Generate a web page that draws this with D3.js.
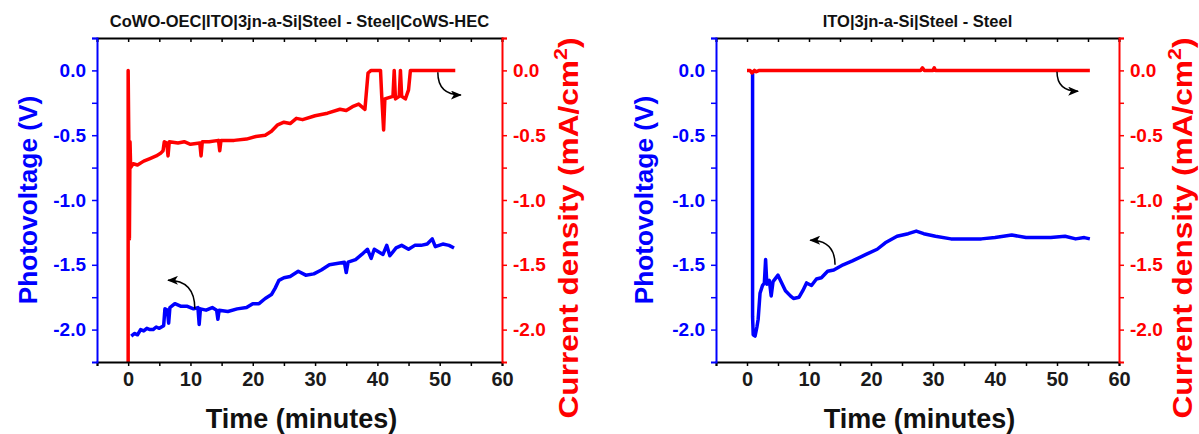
<!DOCTYPE html>
<html>
<head>
<meta charset="utf-8">
<script src="https://cdn.jsdelivr.net/npm/d3@7"></script>
<style>
  html, body { margin: 0; padding: 0; background: #fff; }
  svg { display: block; font-family: "Liberation Sans", Arial, sans-serif; font-weight: bold; }
</style>
</head>
<body>
<svg id="chart" width="1199" height="434"></svg>
<script>
// ---------------- DATA ----------------
const panelTitles = ["CoWO-OEC|ITO|3jn-a-Si|Steel - Steel|CoWS-HEC", "ITO|3jn-a-Si|Steel - Steel"];
const xTickValues = [0, 10, 20, 30, 40, 50, 60];
const xMinorValues = [-5, 5, 15, 25, 35, 45, 55];
const yTickValues = [0.0, -0.5, -1.0, -1.5, -2.0];
const yMinorValues = [0.25, -0.25, -0.75, -1.25, -1.75];
const xTitle = "Time (minutes)";
const yLeftTitle = "Photovoltage (V)";
const yRightTitle = ["Current density (mA/cm", "2", ")"];

// Panel 1: CoWO-OEC|ITO|3jn-a-Si|Steel - Steel|CoWS-HEC  [time (min), value]
const p1Voltage = [
  [0.5,-2.05],[1,-2.03],[1.5,-2.04],[2,-2.0],[2.5,-2.01],[3,-1.99],[3.5,-2.0],[4,-2.0],[4.5,-1.98],[5,-1.99],
  [5.7,-1.97],[5.9,-1.84],[6.3,-1.85],[6.5,-1.95],[6.7,-1.83],[7.5,-1.80],[8.5,-1.82],[9.5,-1.82],[10.5,-1.84],
  [11.2,-1.83],[11.4,-1.96],[11.6,-1.84],[12.5,-1.85],[13.5,-1.83],[14.2,-1.85],[14.4,-1.92],[14.6,-1.85],
  [16,-1.86],[17.5,-1.84],[19,-1.83],[20,-1.80],[21,-1.80],[22,-1.76],[23,-1.73],[23.6,-1.68],[24.2,-1.62],
  [25,-1.60],[26,-1.59],[27.3,-1.55],[28.5,-1.58],[29.8,-1.57],[31,-1.54],[32.3,-1.50],[33.5,-1.49],[34.7,-1.48],
  [35,-1.56],[35.3,-1.48],[36.5,-1.46],[37.5,-1.42],[38.4,-1.38],[39,-1.45],[39.5,-1.38],[40.9,-1.42],[41.5,-1.35],
  [42,-1.43],[43,-1.37],[43.9,-1.35],[45,-1.38],[46,-1.35],[47,-1.35],[48,-1.34],[48.8,-1.30],[49.3,-1.36],
  [50.5,-1.34],[51.5,-1.35],[52.3,-1.37]
];
const p1Current = [
  [0,-2.25],[0,0.0],[0.1,-0.5],[0.2,-1.3],[0.3,-0.55],[0.4,-0.75],[0.8,-0.72],[1.5,-0.73],[2.5,-0.70],[3.5,-0.68],
  [4.5,-0.66],[5.2,-0.64],[5.6,-0.62],[5.8,-0.55],[6.2,-0.56],[6.4,-0.66],[6.6,-0.55],[8,-0.56],[9,-0.55],[10,-0.57],
  [11.5,-0.56],[11.7,-0.66],[11.9,-0.55],[13,-0.55],[14.5,-0.54],[14.7,-0.62],[14.9,-0.54],[17,-0.54],[19,-0.53],
  [20.5,-0.51],[22,-0.50],[23,-0.47],[24,-0.42],[25,-0.40],[26,-0.41],[27,-0.37],[28,-0.38],[30,-0.35],[32,-0.33],
  [34,-0.30],[35,-0.31],[36,-0.28],[37,-0.26],[38,-0.30],[38.5,-0.02],[39,0.0],[40.5,0.0],[40.7,-0.2],[41,-0.46],
  [41.2,-0.22],[42.5,-0.2],[42.7,0.0],[42.9,-0.22],[43.5,-0.2],[43.7,0.0],[43.9,-0.2],[44.5,-0.22],[45,-0.15],
  [45.3,0.0],[52.5,0.0]
];
// Panel 2: ITO|3jn-a-Si|Steel - Steel
const p2Voltage = [
  [0.9,0.0],[0.9,-1.9],[1.0,-2.04],[1.3,-2.05],[1.6,-1.98],[1.8,-1.92],[2.1,-1.72],[2.5,-1.66],[2.8,-1.64],[3.0,-1.46],
  [3.2,-1.65],[3.6,-1.62],[3.9,-1.74],[4.2,-1.63],[5,-1.58],[5.5,-1.63],[6.2,-1.70],[7,-1.74],[7.5,-1.76],[8.4,-1.75],
  [9,-1.70],[9.6,-1.64],[10.4,-1.66],[11.2,-1.61],[12,-1.60],[13,-1.55],[14,-1.54],[15.5,-1.50],[17,-1.47],
  [19.2,-1.42],[21,-1.38],[22.3,-1.33],[24.2,-1.28],[26,-1.26],[27.3,-1.24],[28.5,-1.26],[30.4,-1.28],[32.9,-1.30],
  [35,-1.30],[37.8,-1.30],[40,-1.29],[42.7,-1.27],[45,-1.29],[47,-1.29],[49,-1.29],[51.3,-1.28],[53,-1.30],
  [54.4,-1.29],[55.3,-1.30]
];
const p2Current = [
  [0,0.0],[0.5,0.0],[0.8,-0.02],[1.2,0.0],[1.5,-0.01],[2,0.0],[28,0.0],[28.3,0.02],[28.6,0.0],
  [30,0.0],[30.2,0.02],[30.4,0.0],[55.3,0.0]
];
// Annotation arrows [start, end] in data coordinates
const p1Arrows = [[[10.7,-1.84],[6.4,-1.62]], [[49.7,-0.015],[53.4,-0.19]]];
const p2Arrows = [[[14.2,-1.50],[10.2,-1.31]], [[50.0,-0.01],[53.4,-0.16]]];

// ---------------- DRAW ----------------
const svg = d3.select("#chart");
const BLUE = "#0000ff", RED = "#ff0000";
const plotTop = 38, plotBottom = 362;
const FONT = "Liberation Sans, Arial, sans-serif";
const fmtY = d => d3.format(".1f")(d).replace("\u2212", "-");

const defs = svg.append("defs");
defs.append("marker").attr("id", "ah").attr("viewBox", "0 0 12 10")
  .attr("refX", 11).attr("refY", 5).attr("markerWidth", 12).attr("markerHeight", 9)
  .attr("markerUnits", "userSpaceOnUse").attr("orient", "auto")
  .append("path").attr("d", "M0,0 L12,5 L0,10 L3,5 Z").attr("fill", "#000");

const panels = [
  {left: 97, right: 502, title: panelTitles[0], v: p1Voltage, c: p1Current, arrows: p1Arrows,
   yLblX: 37, yRLblX: 578},
  {left: 716, right: 1119, title: panelTitles[1], v: p2Voltage, c: p2Current, arrows: p2Arrows,
   yLblX: 653, yRLblX: 1192}
];

panels.forEach(p => {
  const g = svg.append("g");
  const x = d3.scaleLinear().domain([-5, 60]).range([p.left, p.right]);
  const yL = d3.scaleLinear().domain([-2.25, 0.25]).range([plotBottom, plotTop]);
  const yR = d3.scaleLinear().domain([-2.25, 0.25]).range([plotBottom, plotTop]);
  const cx = (p.left + p.right) / 2;

  const lineL = d3.line().x(d => x(d[0])).y(d => yL(d[1]));
  const lineR = d3.line().x(d => x(d[0])).y(d => yR(d[1]));
  const clipId = "clip" + p.left;
  defs.append("clipPath").attr("id", clipId).append("rect")
    .attr("x", p.left).attr("y", plotTop).attr("width", p.right - p.left).attr("height", plotBottom - plotTop);
  const plot = g.append("g").attr("clip-path", `url(#${clipId})`);
  plot.append("path").datum(p.v).attr("d", lineL).attr("fill", "none")
    .attr("stroke", BLUE).attr("stroke-width", 3.5).attr("stroke-linejoin", "round");
  plot.append("path").datum(p.c).attr("d", lineR).attr("fill", "none")
    .attr("stroke", RED).attr("stroke-width", 3.5).attr("stroke-linejoin", "round");

  p.arrows.forEach(a => {
    const s = [x(a[0][0]), yL(a[0][1])], e = [x(a[1][0]), yL(a[1][1])];
    g.append("path").attr("d", `M${s[0]},${s[1]} Q${s[0]},${e[1]} ${e[0]},${e[1]}`)
      .attr("fill", "none").attr("stroke", "#000").attr("stroke-width", 1.5)
      .attr("marker-end", "url(#ah)");
  });

  const axB = g.append("g").attr("transform", `translate(0,${plotBottom})`)
    .call(d3.axisBottom(x).tickValues(xTickValues).tickSize(4).tickPadding(6).tickFormat(d3.format("d")));
  g.append("g").attr("transform", `translate(0,${plotBottom})`)
    .call(d3.axisBottom(x).tickValues(xMinorValues).tickSize(4).tickFormat(""))
    .call(s => s.select(".domain").remove())
    .selectAll("line").attr("stroke", "#000").attr("stroke-width", 1.5);
  axB.select(".domain").attr("stroke", "#000").attr("stroke-width", 2);
  axB.selectAll("line").attr("stroke", "#000").attr("stroke-width", 1.5);
  axB.selectAll("text").attr("fill", "#1a1a1a").attr("font-size", 20).attr("font-weight", "bold")
    .attr("font-family", FONT);

  const axT = g.append("g").attr("transform", `translate(0,${plotTop})`)
    .call(d3.axisBottom(x).tickValues(xTickValues.concat(xMinorValues)).tickSize(4).tickFormat(""));
  axT.select(".domain").attr("stroke", "#000").attr("stroke-width", 2);
  axT.selectAll("line").attr("stroke", "#000").attr("stroke-width", 1.5);

  const axL = g.append("g").attr("transform", `translate(${p.left},0)`)
    .call(d3.axisLeft(yL).tickValues(yTickValues).tickSize(5).tickPadding(6).tickFormat(fmtY));
  g.append("g").attr("transform", `translate(${p.left},0)`)
    .call(d3.axisLeft(yL).tickValues(yMinorValues).tickSize(5).tickFormat(""))
    .call(s => s.select(".domain").remove()).selectAll("line").attr("stroke", BLUE).attr("stroke-width", 1.5);
  axL.select(".domain").attr("stroke", BLUE).attr("stroke-width", 2);
  axL.selectAll("line").attr("stroke", BLUE).attr("stroke-width", 1.5);
  axL.selectAll("text").attr("fill", BLUE).attr("font-size", 19).attr("font-weight", "bold")
    .attr("font-family", FONT);

  const axR = g.append("g").attr("transform", `translate(${p.right},0)`)
    .call(d3.axisRight(yR).tickValues(yTickValues).tickSize(5).tickPadding(6).tickFormat(fmtY));
  g.append("g").attr("transform", `translate(${p.right},0)`)
    .call(d3.axisRight(yR).tickValues(yMinorValues).tickSize(5).tickFormat(""))
    .call(s => s.select(".domain").remove()).selectAll("line").attr("stroke", RED).attr("stroke-width", 1.5);
  axR.select(".domain").attr("stroke", RED).attr("stroke-width", 2);
  axR.selectAll("line").attr("stroke", RED).attr("stroke-width", 1.5);
  axR.selectAll("text").attr("fill", RED).attr("font-size", 19).attr("font-weight", "bold")
    .attr("font-family", FONT);

  g.append("text").attr("x", cx).attr("y", 27).attr("text-anchor", "middle")
    .attr("font-size", 16.5).attr("fill", "#111").text(p.title);
  g.append("text").attr("x", cx + 2).attr("y", 428).attr("text-anchor", "middle")
    .attr("font-size", 27).attr("fill", "#111").text(xTitle);
  g.append("text").attr("transform", `translate(${p.yLblX},${(plotTop + plotBottom) / 2}) rotate(-90) scale(1.05,1)`)
    .attr("text-anchor", "middle").attr("font-size", 25).attr("fill", BLUE).text(yLeftTitle);
  const rt = g.append("text").attr("transform", `translate(${p.yRLblX},228) rotate(-90) scale(1.13,1)`)
    .attr("text-anchor", "middle").attr("font-size", 28).attr("fill", RED);
  rt.append("tspan").text(yRightTitle[0]);
  rt.append("tspan").attr("dy", -11).attr("font-size", 19).text(yRightTitle[1]);
  rt.append("tspan").attr("dy", 11).text(yRightTitle[2]);
});
</script>
</body>
</html>
